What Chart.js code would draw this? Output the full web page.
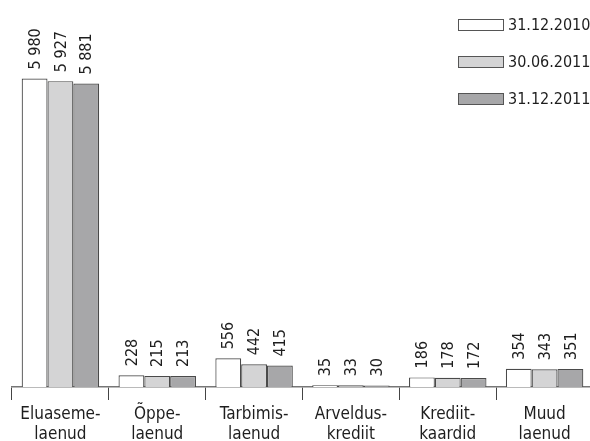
<!DOCTYPE html>
<html>
<head>
<meta charset="utf-8">
<script src="https://cdn.jsdelivr.net/npm/chart.js@4/dist/chart.umd.min.js"></script>
<style>
    html, body { margin: 0; padding: 0; background: #fff; overflow: hidden; }
    #wrap { width: 594px; height: 441px; }
</style>
</head>
<body>
<div id="wrap"><canvas id="chart" width="594" height="441"></canvas></div>
<script>
var categories = [
    ['Eluaseme-', 'laenud'],
    ['Õppe-', 'laenud'],
    ['Tarbimis-', 'laenud'],
    ['Arveldus-', 'krediit'],
    ['Krediit-', 'kaardid'],
    ['Muud', 'laenud']
];
var seriesNames = ['31.12.2010', '30.06.2011', '31.12.2011'];
var values2010 = [5980, 228, 556, 35, 186, 354];
var values2011a = [5927, 215, 442, 33, 178, 343];
var values2011b = [5881, 213, 415, 30, 172, 351];
var fillColors = ['#ffffff', '#d4d4d5', '#a7a7a9'];

var FONT = '"DejaVu Sans Condensed", "Liberation Sans Narrow", sans-serif';

function fmt(v) {
    var s = String(v);
    if (s.length > 3) s = s.slice(0, s.length - 3) + ' ' + s.slice(-3);
    return s;
}

// numbers written upright above every bar
var valueLabels = {
    id: 'valueLabels',
    afterDatasetsDraw: function(chart) {
        var ctx = chart.ctx;
        ctx.save();
        ctx.fillStyle = '#1e1e1e';
        ctx.font = '16px ' + FONT;
        ctx.textAlign = 'left';
        ctx.textBaseline = 'middle';
        chart.data.datasets.forEach(function(ds, i) {
            chart.getDatasetMeta(i).data.forEach(function(bar, j) {
                ctx.save();
                ctx.translate(bar.x + 1, bar.y - 9);
                ctx.rotate(-Math.PI / 2);
                ctx.fillText(fmt(ds.data[j]), 0, 0);
                ctx.restore();
            });
        });
        ctx.restore();
    }
};

// legend stacked in the top right corner
var sideLegend = {
    id: 'sideLegend',
    afterDraw: function(chart) {
        var ctx = chart.ctx;
        ctx.save();
        ctx.font = '16px ' + FONT;
        ctx.textBaseline = 'middle';
        ctx.textAlign = 'left';
        chart.data.datasets.forEach(function(ds, i) {
            var y = 25 + i * 37;
            ctx.fillStyle = ds.backgroundColor;
            ctx.fillRect(458, y - 6, 46, 12);
            ctx.strokeStyle = '#555';
            ctx.lineWidth = 1;
            ctx.strokeRect(458.5, y - 5.5, 45, 11);
            ctx.fillStyle = '#1e1e1e';
            ctx.fillText(ds.label, 508, y + 1);
        });
        ctx.restore();
    }
};

var ctx = document.getElementById('chart').getContext('2d');
var chart = new Chart(ctx, {
    type: 'bar',
    data: {
        labels: categories,
        datasets: [values2010, values2011a, values2011b].map(function(d, i) {
            return {
                label: seriesNames[i],
                data: d,
                backgroundColor: fillColors[i],
                borderColor: '#4a4a4a',
                borderWidth: 1.2,
                borderSkipped: 'bottom',
                categoryPercentage: 0.8,
                barPercentage: 1
            };
        })
    },
    options: {
        responsive: false,
        animation: false,
        layout: { padding: { left: 12, right: 1, top: 0, bottom: 0 } },
        plugins: {
            legend: { display: false },
            tooltip: { enabled: false }
        },
        scales: {
            x: {
                afterFit: function(scale) { scale.height = 54; },
                grid: {
                    offset: true,
                    drawOnChartArea: false,
                    drawTicks: true,
                    tickLength: 13,
                    color: '#444',
                    lineWidth: 1
                },
                border: { color: '#777', width: 1.5 },
                ticks: {
                    color: '#1e1e1e',
                    font: { family: FONT, size: 17, lineHeight: 1.15 },
                    padding: 5,
                    maxRotation: 0,
                    autoSkip: false
                }
            },
            y: {
                display: false,
                min: 0,
                max: 7500
            }
        }
    },
    plugins: [valueLabels, sideLegend]
});
</script>
</body>
</html>
